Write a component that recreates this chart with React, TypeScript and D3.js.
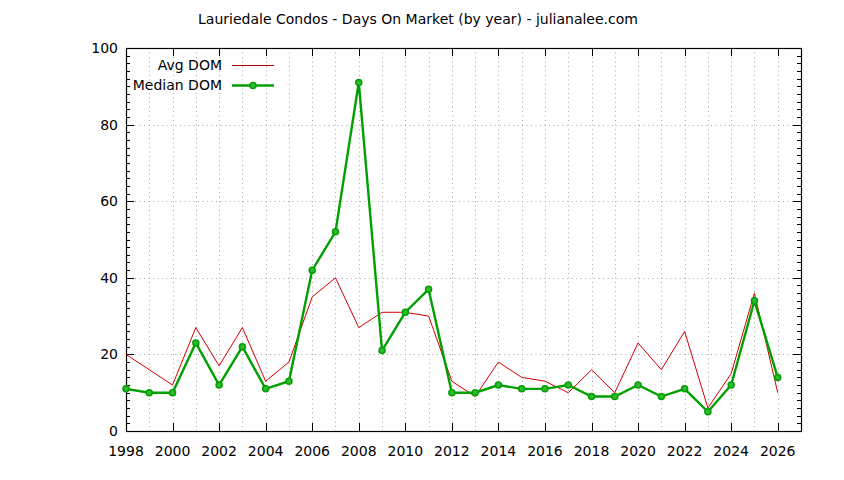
import React, {useEffect, useRef} from 'react';
import * as d3 from 'd3';

const years: number[] = [1998, 1999, 2000, 2001, 2002, 2003, 2004, 2005, 2006, 2007, 2008, 2009, 2010, 2011,
  2012, 2013, 2014, 2015, 2016, 2017, 2018, 2019, 2020, 2021, 2022, 2023, 2024, 2025, 2026];
const avgDom: number[] = [20, 16, 12, 27, 17, 27, 13, 18, 35, 40, 27, 31, 31, 30,
  13, 9, 18, 14, 13, 10, 16, 10, 23, 16, 26, 6, 15, 36, 10];
const medianDom: number[] = [11, 10, 10, 23, 12, 22, 11, 13, 42, 52, 91, 21, 31, 37,
  10, 10, 12, 11, 11, 12, 9, 9, 12, 9, 11, 5, 12, 34, 14];
const yTicks: number[] = [0, 20, 40, 60, 80, 100];
const xTicks: number[] = d3.range(1998, 2027, 2);
const title = 'Lauriedale Condos - Days On Market (by year) - julianalee.com';

const W = 844, H = 480;
const left = 126, right = 801, top = 48, bottom = 431;
const font = '"DejaVu Sans", sans-serif';
const fontSize = '14px';

const App: React.FC = () => {
  const ref = useRef<SVGSVGElement>(null);

  useEffect(() => {
    const svg = d3.select(ref.current!);
    svg.selectAll('*').remove();

    const x = d3.scaleLinear().domain([1998, 2027]).range([left, right]);
    const y = d3.scaleLinear().domain([0, 100]).range([bottom, top]);

    // grid
    const grid = svg.append('g')
    .attr('stroke', '#a8a8a8')
    .attr('stroke-width', 1)
    .attr('stroke-dasharray', '1,3.5');
    grid.selectAll('line.gx')
    .data(d3.range(1999, 2027))
    .join('line')
    .attr('x1', d => Math.round(x(d)) + 0.5).attr('x2', d => Math.round(x(d)) + 0.5)
    .attr('y1', top).attr('y2', bottom);
    grid.selectAll('line.gy')
    .data(yTicks.filter(d => d > 0 && d < 100))
    .join('line')
    .attr('class', 'gy')
    .attr('x1', left).attr('x2', right)
    .attr('y1', d => Math.round(y(d)) + 0.5).attr('y2', d => Math.round(y(d)) + 0.5);

    // ticks
    const ticks = svg.append('g').attr('stroke', '#000').attr('stroke-width', 1);
    const minorY = d3.range(0, 101, 2).filter(d => d % 20 !== 0);
    for (const side of [left, right]) {
      const dir = side === left ? 1 : -1;
      ticks.append('g').selectAll('line')
      .data(yTicks)
      .join('line')
      .attr('x1', side).attr('x2', side + dir * 8)
      .attr('y1', d => Math.round(y(d)) + 0.5).attr('y2', d => Math.round(y(d)) + 0.5);
      ticks.append('g').selectAll('line')
      .data(minorY)
      .join('line')
      .attr('x1', side).attr('x2', side + dir * 4)
      .attr('y1', d => Math.round(y(d)) + 0.5).attr('y2', d => Math.round(y(d)) + 0.5);
    }
    for (const side of [bottom, top]) {
      const dir = side === bottom ? -1 : 1;
      ticks.append('g').selectAll('line')
      .data(xTicks)
      .join('line')
      .attr('x1', d => Math.round(x(d)) + 0.5).attr('x2', d => Math.round(x(d)) + 0.5)
      .attr('y1', side).attr('y2', side + dir * 8);
    }

    // border
    svg.append('rect')
    .attr('x', left + 0.5).attr('y', top + 0.5)
    .attr('width', right - left).attr('height', bottom - top)
    .attr('fill', 'none').attr('stroke', '#000').attr('stroke-width', 1.2);

    // tick labels
    svg.append('g').selectAll('text')
    .data(yTicks)
    .join('text')
    .attr('x', left - 8).attr('y', d => y(d))
    .attr('dy', '0.35em')
    .attr('text-anchor', 'end')
    .style('font-family', font).style('font-size', fontSize)
    .text(d => d);
    svg.append('g').selectAll('text')
    .data(xTicks)
    .join('text')
    .attr('x', d => x(d)).attr('y', 456)
    .attr('text-anchor', 'middle')
    .style('font-family', font).style('font-size', fontSize)
    .text(d => d);

    // series
    const line = d3.line<number>().x((_, i) => x(years[i])).y(d => y(d));
    svg.append('path')
    .datum(avgDom)
    .attr('d', line)
    .attr('fill', 'none').attr('stroke', '#d40000').attr('stroke-width', 1);
    svg.append('path')
    .datum(medianDom)
    .attr('d', line)
    .attr('fill', 'none').attr('stroke', '#00a000').attr('stroke-width', 2.4)
    .attr('stroke-linejoin', 'miter');
    svg.append('g').selectAll('circle')
    .data(medianDom)
    .join('circle')
    .attr('cx', (_, i) => x(years[i])).attr('cy', d => y(d))
    .attr('r', 3)
    .attr('fill', '#33b833').attr('stroke', '#00a000').attr('stroke-width', 1.5);

    // legend
    const legend = svg.append('g').style('font-family', font).style('font-size', fontSize);
    const rows = [
      {label: 'Avg DOM', color: '#b00000', width: 1, marker: false, yy: 65},
      {label: 'Median DOM', color: '#00a000', width: 2.4, marker: true, yy: 85},
    ];
    for (const r of rows) {
      legend.append('text')
      .attr('x', 222).attr('y', r.yy).attr('dy', '0.35em')
      .attr('text-anchor', 'end')
      .text(r.label);
      legend.append('line')
      .attr('x1', 232).attr('x2', 274)
      .attr('y1', r.yy + 0.5).attr('y2', r.yy + 0.5)
      .attr('stroke', r.color).attr('stroke-width', r.width);
      if (r.marker) {
        legend.append('circle')
        .attr('cx', 253).attr('cy', r.yy + 0.5).attr('r', 3)
        .attr('fill', '#33b833').attr('stroke', '#00a000').attr('stroke-width', 1.5);
      }
    }

    // title
    svg.append('text')
    .attr('x', 418).attr('y', 24)
    .attr('text-anchor', 'middle')
    .style('font-family', font).style('font-size', fontSize)
    .text(title);
  }, []);

  return <svg ref={ref} width={W} height={H}
              style={{position: 'absolute', left: 0, top: 0, background: '#fff'}}/>;
};

export default App;
